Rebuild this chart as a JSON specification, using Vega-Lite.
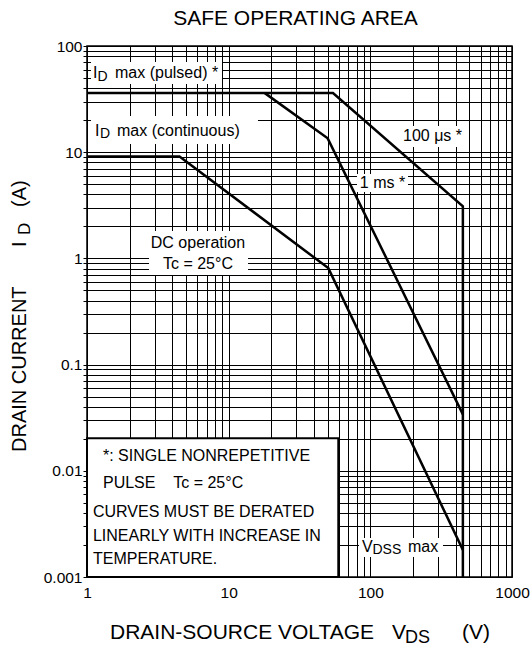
{
  "$schema": "https://vega.github.io/schema/vega-lite/v6.json",
  "width": 425,
  "height": 531,
  "autosize": {"type": "none"},
  "padding": {"left": 87, "top": 46, "right": 20, "bottom": 72},
  "background": "white",
  "title": {"text": "SAFE OPERATING AREA", "fontSize": 21, "font": "Liberation Sans", "fontWeight": "normal", "color": "#000", "offset": 10, "dx": -4},
  "config": {"view": {"stroke": "#000", "strokeWidth": 1.5}, "font": "Liberation Sans", "text": {"font": "Liberation Sans", "color": "#000"}},
  "datasets": {
    "curves": [
      {"series": "100us", "i": 0, "x": 1, "y": 36},
      {"series": "100us", "i": 1, "x": 54.5, "y": 36},
      {"series": "100us", "i": 2, "x": 450, "y": 3.1},
      {"series": "100us", "i": 3, "x": 450, "y": 0.001},
      {"series": "1ms", "i": 0, "x": 18, "y": 36},
      {"series": "1ms", "i": 1, "x": 50, "y": 13.5},
      {"series": "1ms", "i": 2, "x": 450, "y": 0.034},
      {"series": "DC", "i": 0, "x": 1, "y": 9.1},
      {"series": "DC", "i": 1, "x": 4.5, "y": 9.1},
      {"series": "DC", "i": 2, "x": 50.5, "y": 0.81},
      {"series": "DC", "i": 3, "x": 450, "y": 0.0018}
    ],
    "boxes": [
      {"x": 1.067, "x2": 8.97, "y": 43.9, "y2": 70.7},
      {"x": 1.067, "x2": 16.1, "y": 11.95, "y2": 21.9},
      {"x": 156.7, "x2": 466, "y": 11.2, "y2": 17.65},
      {"x": 80.5, "x2": 184.5, "y": 4.22, "y2": 6.23},
      {"x": 2.74, "x2": 13.7, "y": 0.698, "y2": 1.81},
      {"x": 83.2, "x2": 325.8, "y": 0.00154, "y2": 0.00233}
    ],
    "note": [{"x": 1, "x2": 59.4, "y": 0.001, "y2": 0.0202}],
    "txtL": [
      {"x": 1.102, "y": 56.1, "text": "I"},
      {"x": 1.576, "y": 56.1, "text": "max (pulsed) *"},
      {"x": 1.139, "y": 15.85, "text": "I"},
      {"x": 1.628, "y": 15.85, "text": "max (continuous)"},
      {"x": 87.3, "y": 0.00193, "text": "V"},
      {"x": 184.5, "y": 0.00193, "text": "max"},
      {"x": 1.297, "y": 0.01377, "text": "*: SINGLE NONREPETITIVE"},
      {"x": 1.297, "y": 0.00762, "text": "PULSE"},
      {"x": 4.06, "y": 0.00762, "text": "Tc = 25°C"},
      {"x": 1.102, "y": 0.00412, "text": "CURVES MUST BE DERATED"},
      {"x": 1.102, "y": 0.00245, "text": "LINEARLY WITH INCREASE IN"},
      {"x": 1.102, "y": 0.00148, "text": "TEMPERATURE."}
    ],
    "txtC": [
      {"x": 274.7, "y": 14.2, "text": "100 μs *"},
      {"x": 121.8, "y": 5.16, "text": "1 ms *"},
      {"x": 6.07, "y": 1.406, "text": "DC operation"},
      {"x": 6.07, "y": 0.885, "text": "Tc = 25°C"}
    ],
    "subs": [
      {"x": 1.186, "y": 51.6, "text": "D"},
      {"x": 1.235, "y": 14.68, "text": "D"},
      {"x": 103.6, "y": 0.00178, "text": "DSS"}
    ],
    "xt": [
      {"x": 1.453, "y": 0.000294, "text": "DRAIN-SOURCE VOLTAGE"},
      {"x": 142.2, "y": 0.000294, "text": "V"},
      {"x": 443.6, "y": 0.000294, "text": "(V)"}
    ],
    "xsub": [{"x": 175.7, "y": 0.000264, "text": "DS"}],
    "yt": [
      {"x": 0.3366, "y": 0.01503, "text": "DRAIN CURRENT"},
      {"x": 0.3366, "y": 1.28, "text": "I"},
      {"x": 0.3366, "y": 3.05, "text": "(A)"}
    ],
    "ysub": [{"x": 0.365, "y": 1.66, "text": "D"}]
  },
  "encoding": {
    "x": {
      "field": "x", "type": "quantitative",
      "scale": {"type": "log", "domain": [1, 1000], "nice": false},
      "axis": {
        "values": [1, 2, 3, 4, 5, 6, 7, 8, 9, 10, 20, 30, 40, 50, 60, 70, 80, 90, 100, 200, 300, 400, 500, 600, 700, 800, 900, 1000],
        "labelExpr": "indexof([1, 10, 100, 1000], datum.value) >= 0 ? datum.value + '' : ''",
        "title": null, "grid": true, "gridColor": "#000", "gridWidth": 1,
        "ticks": false, "domain": false,
        "labelFontSize": 15.5, "labelColor": "#000", "labelFont": "Liberation Sans",
        "labelPadding": 8, "labelFlush": false, "labelOverlap": false
      }
    },
    "y": {
      "field": "y", "type": "quantitative",
      "scale": {"type": "log", "domain": [0.001, 100], "nice": false},
      "axis": {
        "values": [0.001, 0.002, 0.003, 0.004, 0.005, 0.006, 0.007, 0.008, 0.009, 0.01, 0.02, 0.03, 0.04, 0.05, 0.06, 0.07, 0.08, 0.09, 0.1, 0.2, 0.3, 0.4, 0.5, 0.6, 0.7, 0.8, 0.9, 1, 2, 3, 4, 5, 6, 7, 8, 9, 10, 20, 30, 40, 50, 60, 70, 80, 90, 100],
        "labelExpr": "indexof([0.001, 0.01, 0.1, 1, 10, 100], datum.value) >= 0 ? datum.value + '' : ''",
        "title": null, "grid": true, "gridColor": "#000", "gridWidth": 1,
        "ticks": true, "tickSize": 4, "tickColor": "#000", "domain": false,
        "labelFontSize": 15.5, "labelColor": "#000", "labelFont": "Liberation Sans",
        "labelPadding": 1, "labelOverlap": false
      }
    }
  },
  "layer": [
    {"data": {"name": "boxes"}, "mark": {"type": "rect", "fill": "white", "stroke": null}, "encoding": {"x2": {"field": "x2"}, "y2": {"field": "y2"}}},
    {"data": {"name": "note"}, "mark": {"type": "rect", "fill": "white", "stroke": "#000", "strokeWidth": 2}, "encoding": {"x2": {"field": "x2"}, "y2": {"field": "y2"}}},
    {"data": {"name": "curves"}, "mark": {"type": "line", "stroke": "#000", "strokeWidth": 2.5}, "encoding": {"detail": {"field": "series"}, "order": {"field": "i", "type": "quantitative"}}},
    {"data": {"name": "txtL"}, "mark": {"type": "text", "align": "left", "baseline": "middle", "fontSize": 16}, "encoding": {"text": {"field": "text"}}},
    {"data": {"name": "txtC"}, "mark": {"type": "text", "align": "center", "baseline": "middle", "fontSize": 16}, "encoding": {"text": {"field": "text"}}},
    {"data": {"name": "subs"}, "mark": {"type": "text", "align": "left", "baseline": "middle", "fontSize": 14}, "encoding": {"text": {"field": "text"}}},
    {"data": {"name": "xt"}, "mark": {"type": "text", "align": "left", "baseline": "middle", "fontSize": 21}, "encoding": {"text": {"field": "text"}}},
    {"data": {"name": "xsub"}, "mark": {"type": "text", "align": "left", "baseline": "middle", "fontSize": 18}, "encoding": {"text": {"field": "text"}}},
    {"data": {"name": "yt"}, "mark": {"type": "text", "align": "left", "baseline": "middle", "fontSize": 20, "angle": 270}, "encoding": {"text": {"field": "text"}}},
    {"data": {"name": "ysub"}, "mark": {"type": "text", "align": "left", "baseline": "middle", "fontSize": 17, "angle": 270}, "encoding": {"text": {"field": "text"}}}
  ]
}
